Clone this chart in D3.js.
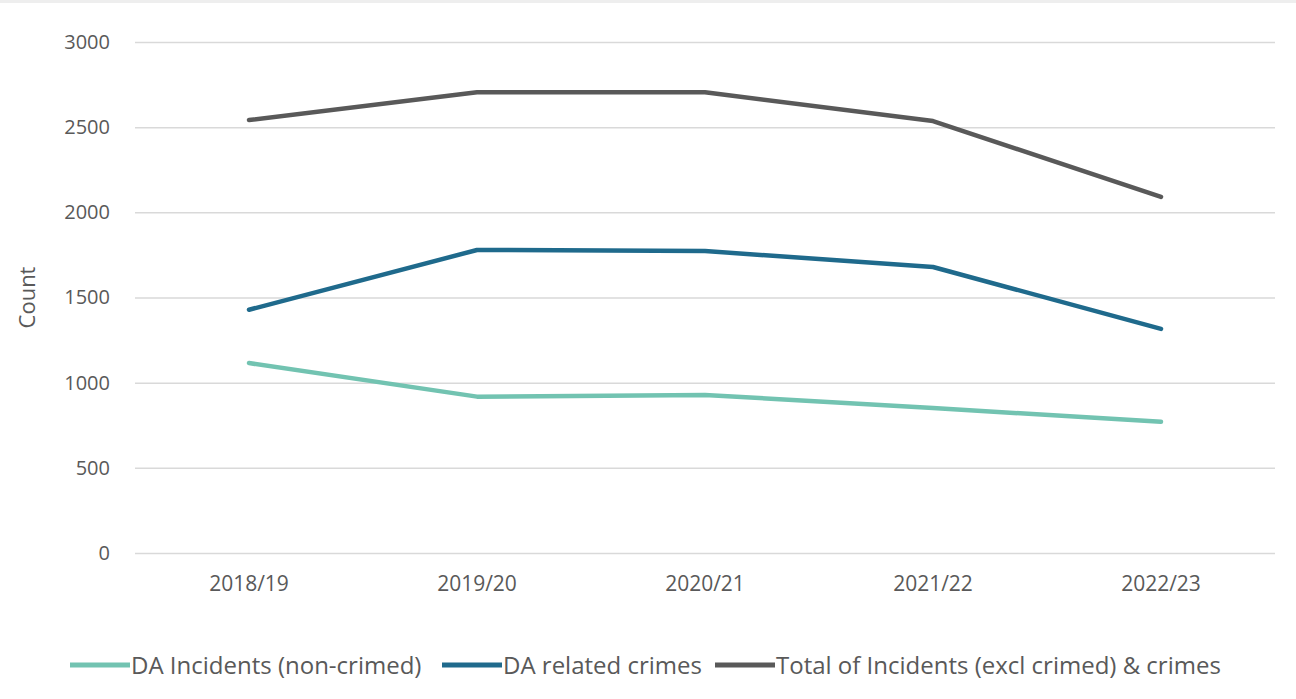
<!DOCTYPE html>
<html><head><meta charset="utf-8">
<script src="https://cdn.jsdelivr.net/npm/d3@7"></script>
<style>body{margin:0;background:#fff;} svg{display:block;}</style>
</head><body>
<svg id="chart" width="1296" height="699"></svg>
<script>
const categories = ["2018/19","2019/20","2020/21","2021/22","2022/23"];
const incidents = [1115, 918, 928, 851, 770];
const crimes = [1428, 1779, 1773, 1679, 1316];
const totals = [2542, 2705, 2705, 2536, 2091];
const yTicks = [0,500,1000,1500,2000,2500,3000];
const seriesNames = ["DA Incidents (non-crimed)","DA related crimes","Total of Incidents (excl crimed) & crimes"];
const seriesColors = ["#72C3B1","#1F6A8C","#595959"];

const series = [incidents, crimes, totals].map((v,i)=>({name:seriesNames[i], color:seriesColors[i], values:v}));

const svg = d3.select("#chart");
const font = "Open Sans, sans-serif";
svg.append("rect").attr("x",0).attr("y",0).attr("width",1296).attr("height",3).attr("fill","#eeeeee");

const mLeft=135, mRight=1275, mTop=42, mBottom=553;
const x = d3.scaleBand().domain(categories).range([mLeft,mRight]);
const y = d3.scaleLinear().domain([0,3000]).range([mBottom,mTop]);

const yAxis = svg.append("g").attr("transform",`translate(${mLeft},0)`)
  .call(d3.axisLeft(y).tickValues(yTicks).tickFormat(d3.format("d")).tickSize(-(mRight-mLeft)).tickPadding(25));
yAxis.select(".domain").remove();
yAxis.selectAll(".tick line").attr("stroke","#d9d9d9").attr("stroke-width",1.5);
yAxis.selectAll(".tick text").attr("fill","#595959").style("font-family",font).style("font-size","20px");

const xAxis = svg.append("g").attr("transform",`translate(0,${mBottom})`)
  .call(d3.axisBottom(x).tickSize(0).tickPadding(23));
xAxis.select(".domain").remove();
xAxis.selectAll(".tick text").attr("fill","#595959").style("font-family",font).style("font-size","21px");

svg.append("text").attr("transform",`translate(35,${(mTop+mBottom)/2 + 0}) rotate(-90)`)
  .attr("text-anchor","middle").attr("fill","#595959").style("font-family",font).style("font-size","22px").text("Count");

const line = d3.line().x((d,i)=>x(categories[i])+x.bandwidth()/2).y(d=>y(d));
svg.selectAll(".series").data(series).enter().append("path")
  .attr("d",d=>line(d.values)).attr("fill","none").attr("stroke",d=>d.color)
  .attr("stroke-width",4.5).attr("stroke-linejoin","round").attr("stroke-linecap","round");

const legendX = [70, 442, 715];
const lg = svg.append("g");
series.forEach((s,i)=>{
  const g = lg.append("g").attr("transform",`translate(${legendX[i]},665)`);
  g.append("line").attr("x1",0).attr("x2",60).attr("y1",0).attr("y2",0).attr("stroke",s.color).attr("stroke-width",5);
  g.append("text").attr("x",61).attr("y",9).attr("fill","#595959").style("font-family",font).style("font-size","24px").text(s.name);
});
</script>
</body></html>
